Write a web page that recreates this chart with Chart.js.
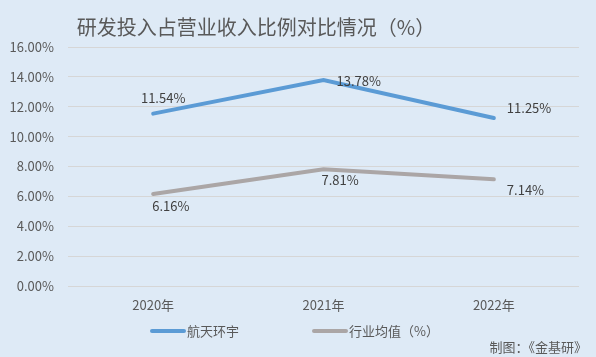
<!DOCTYPE html>
<html><head><meta charset="utf-8">
<script src="https://cdn.jsdelivr.net/npm/chart.js@4/dist/chart.umd.min.js"></script>
<style>
html,body{margin:0;padding:0;background:#DEEAF6;}
#wrap{width:596px;height:357px;position:relative;}
</style></head>
<body><div id="wrap"><canvas id="c" width="596" height="357"></canvas></div>
<script>
const title = '研发投入占营业收入比例对比情况（%）';
const source = '制图：《金基研》';
const categories = ['2020年', '2021年', '2022年'];
const seriesNames = ['航天环宇', '行业均值（%）'];
const companyValues = [11.54, 13.78, 11.25];
const industryValues = [6.16, 7.81, 7.14];
const yTicks = [0, 2, 4, 6, 8, 10, 12, 14, 16];

const FONT = '"Noto Sans CJK SC", "Noto Sans", sans-serif';
const colors = ['#5B9BD5', '#ABA6A6'];
// label offsets [dx, dy, align] per dataset/point
const labelOffsets = [
  [[10, -16, 'center'], [13, 1, 'left'], [13, -10, 'left']],
  [[-1, 12, 'left'], [-2, 11, 'left'], [13, 11, 'left']]
];

const decor = {
  id: 'decor',
  afterDatasetsDraw(chart) {
    const ctx = chart.ctx;
    ctx.save();
    ctx.font = '13px ' + FONT;
    ctx.fillStyle = '#404040';
    ctx.textBaseline = 'middle';
    chart.data.datasets.forEach((ds, di) => {
      chart.getDatasetMeta(di).data.forEach((pt, i) => {
        const [dx, dy, al] = labelOffsets[di][i];
        ctx.textAlign = al;
        ctx.fillText(ds.data[i].toFixed(2) + '%', pt.x + dx, pt.y + dy);
      });
    });
    ctx.font = '20px ' + FONT;
    ctx.fillStyle = '#595959';
    ctx.textAlign = 'center';
    ctx.fillText(title, 256, 27);
    ctx.font = '13px ' + FONT;
    ctx.textAlign = 'left';
    const legendX = [150, 312];
    chart.data.datasets.forEach((ds, di) => {
      const x = legendX[di];
      ctx.strokeStyle = ds.borderColor;
      ctx.lineWidth = 4;
      ctx.lineCap = 'round';
      ctx.beginPath();
      ctx.moveTo(x + 2, 331);
      ctx.lineTo(x + 34, 331);
      ctx.stroke();
      ctx.fillStyle = '#595959';
      ctx.fillText(ds.label, x + 37, 331);
    });
    ctx.textAlign = 'right';
    ctx.fillText(source, 587, 347);
    ctx.restore();
  }
};

new Chart(document.getElementById('c'), {
  type: 'line',
  data: {
    labels: categories,
    datasets: [
      { label: seriesNames[0], data: companyValues, borderColor: colors[0], backgroundColor: colors[0], borderWidth: 4, pointRadius: 0, tension: 0, borderCapStyle: 'round' },
      { label: seriesNames[1], data: industryValues, borderColor: colors[1], backgroundColor: colors[1], borderWidth: 4, pointRadius: 0, tension: 0, borderCapStyle: 'round' }
    ]
  },
  options: {
    responsive: false,
    animation: false,
    layout: { padding: { top: 47, right: 17, bottom: 41, left: 0 } },
    plugins: { legend: { display: false }, title: { display: false }, tooltip: { enabled: false } },
    scales: {
      x: {
        offset: true,
        grid: { display: false, drawTicks: false },
        border: { display: false },
        ticks: { color: '#595959', font: { family: FONT, size: 13 }, padding: 11, maxRotation: 0 },
        afterFit(s) { s.height = 30; }
      },
      y: {
        min: 0, max: 16,
        afterBuildTicks(s) { s.ticks = yTicks.map(v => ({ value: v })); },
        grid: { color: '#D6D6D6', lineWidth: 1, drawTicks: false },
        border: { display: false },
        ticks: { color: '#595959', font: { family: FONT, size: 13 }, padding: 14, callback: v => v.toFixed(2) + '%' },
        afterFit(s) { s.width = 68; }
      }
    }
  },
  plugins: [decor]
});
</script></body></html>
